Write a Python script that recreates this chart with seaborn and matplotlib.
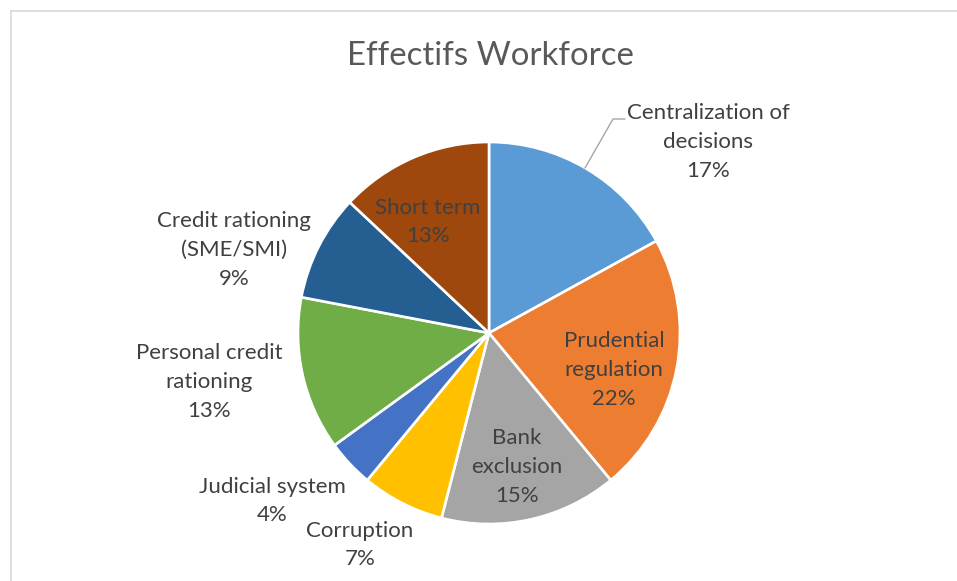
import matplotlib
matplotlib.use("Agg")
import matplotlib.pyplot as plt
import seaborn as sns

categories = ["Centralization of\ndecisions", "Prudential\nregulation", "Bank\nexclusion",
              "Corruption", "Judicial system", "Personal credit\nrationing",
              "Credit rationing\n(SME/SMI)", "Short term"]
values = [17, 22, 15, 7, 4, 13, 9, 13]
colors_hex = ["#5B9BD5", "#ED7D31", "#A5A5A5", "#FFC000", "#4472C4", "#70AD47", "#255E91", "#9E480E"]
title = "Effectifs Workforce"

sns.set_theme(style="white")
plt.rcParams['font.family'] = ['Lato', 'DejaVu Sans']

W, H, DPI = 957, 581, 100
CX, CY, R = 489, 333, 191

fig = plt.figure(figsize=(W / DPI, H / DPI), dpi=DPI)
ax = fig.add_axes([0, 0, 1, 1])
ax.axis("off")

def P(px, py):
    return ((px - CX) / R, (CY - py) / R)

palette = sns.color_palette(colors_hex)
wedges, _ = ax.pie(values, colors=palette, startangle=90, counterclock=False,
                   radius=1, center=(0, 0),
                   wedgeprops=dict(edgecolor="white", linewidth=1.9))
ax.set_xlim(-CX / R, (W - CX) / R)
ax.set_ylim(-(H - CY) / R, CY / R)

total = sum(values)
label_pos = [(708, 142), (614, 370), (517, 467), (360, 545), (272, 501),
             (209, 382), (234, 250), (428, 222)]
for cat, v, (px, py) in zip(categories, values, label_pos):
    x, y = P(px, py)
    ax.text(x, y, f"{cat}\n{round(100 * v / total)}%", ha="center", va="center",
            fontsize=16, color="#404040", linespacing=1.55)

# leader line for first label
lx = [P(585, 168), P(613, 119), P(625, 119)]
ax.plot([p[0] for p in lx], [p[1] for p in lx], color="#A6A6A6", lw=1.0)

fig.text(CX / W + 0.001, 1 - 56 / H, title, ha="center", va="center",
         fontsize=23.8, color="#595959")

# chart border
fig.add_artist(plt.Line2D([10.5 / W, 1], [1 - 10.5 / H, 1 - 10.5 / H], transform=fig.transFigure,
                          color="#D9D9D9", lw=1.2))
fig.add_artist(plt.Line2D([10.5 / W, 10.5 / W], [0, 1 - 10.5 / H], transform=fig.transFigure,
                          color="#D9D9D9", lw=1.2))

fig.savefig("out.png", dpi=DPI, facecolor="white")
